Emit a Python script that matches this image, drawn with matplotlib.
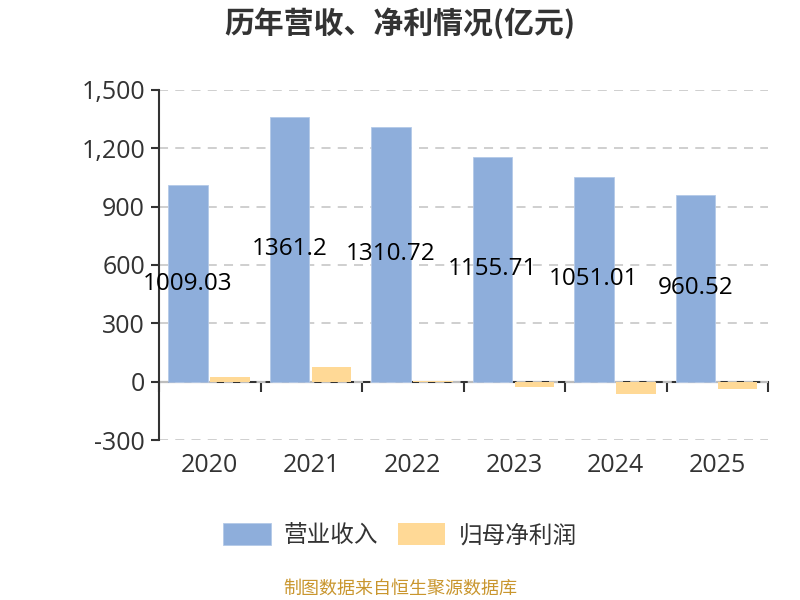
import matplotlib
matplotlib.use("Agg")
import matplotlib.pyplot as plt
import numpy as np
from matplotlib.patches import FancyBboxPatch
from matplotlib.legend_handler import HandlerPatch
from matplotlib.ticker import FuncFormatter

plt.rcParams["font.family"] = ["Open Sans", "Noto Sans CJK SC", "DejaVu Sans"]

YEARS = ["2020", "2021", "2022", "2023", "2024", "2025"]
REVENUE = [1009.03, 1361.2, 1310.72, 1155.71, 1051.01, 960.52]
NET_PROFIT = [22, 73, 1, -29, -65, -36]
REVENUE_LABELS = ["1009.03", "1361.2", "1310.72", "1155.71", "1051.01", "960.52"]

BLUE = "#8eaedb"
ORANGE = "#ffd996"
TEXT = "#333333"
CJK = ["Noto Sans CJK SC", "DejaVu Sans"]

YMIN, YMAX = -300, 1500


def rounded_patch(legend, orig_handle, xdescent, ydescent, width, height, fontsize):
    return FancyBboxPatch((-xdescent, -ydescent), width, height,
                          boxstyle="round,pad=0,rounding_size=4")


def main():
    fig = plt.figure(figsize=(8, 6), dpi=100)
    ax = fig.add_axes([159 / 800, 1 - 440 / 600, 609 / 800, 350 / 600])

    x = np.arange(len(YEARS))
    w = 0.39
    b1 = ax.bar(x - 0.215, REVENUE, w, color=BLUE, edgecolor="#b4c9e8",
                linewidth=0.6, label="营业收入", zorder=2)
    b2 = ax.bar(x + 0.2, NET_PROFIT, w, color=ORANGE, linewidth=0,
                label="归母净利润", zorder=2)

    for xi, v, lab in zip(x, REVENUE, REVENUE_LABELS):
        ax.text(xi - 0.215, v / 2, lab, ha="center", va="center",
                fontsize=17.5, color="black", zorder=3)

    ax.set_xlim(-0.5, len(YEARS) - 0.5)
    ax.set_ylim(YMIN, YMAX)
    ax.set_yticks(np.arange(-300, 1501, 300))
    ax.yaxis.set_major_formatter(FuncFormatter(lambda v, p: f"{int(v):,}"))
    ax.grid(axis="y", linestyle=(0, (5, 4)), color="#cccccc", linewidth=1.3, zorder=0)

    for s in ("top", "right", "bottom"):
        ax.spines[s].set_visible(False)
    ax.spines["left"].set_color(TEXT)
    ax.spines["left"].set_linewidth(1.5)
    ax.tick_params(axis="y", direction="out", length=6, width=1.5, color=TEXT,
                   labelsize=18, labelcolor=TEXT, pad=4)

    ax.set_xticks(x)
    ax.set_xticklabels(YEARS)
    ax.tick_params(axis="x", length=0, labelsize=18, labelcolor=TEXT, pad=9)

    # zero line with category boundary ticks
    zero_frac = (0 - YMIN) / (YMAX - YMIN)
    sec = ax.secondary_xaxis(zero_frac)
    sec.set_xticks(np.arange(-0.5, len(YEARS), 1.0))
    sec.set_xticklabels([])
    sec.tick_params(direction="out", length=7, width=1.5, color=TEXT)
    sec.spines["bottom"].set_color(TEXT)
    sec.spines["bottom"].set_linewidth(1.5)

    fig.text(0.5, 1 - 23 / 600, "历年营收、净利情况(亿元)", ha="center", va="center",
             fontsize=21.5, fontweight="bold", color=TEXT, family=CJK)

    fig.legend(handles=[b1, b2], loc="center", bbox_to_anchor=(0.5, 1 - 535 / 600),
               ncol=2, frameon=False, prop={"family": CJK, "size": 17},
               labelcolor=TEXT, handlelength=2.0, handleheight=1.1,
               handletextpad=0.55, columnspacing=0.85,
               handler_map={b1.patches[0].__class__: HandlerPatch(patch_func=rounded_patch)})

    fig.text(0.5, 1 - 589 / 600, "制图数据来自恒生聚源数据库", ha="center", va="center",
             fontsize=13, color="#c9962e", family=CJK)

    fig.savefig("out.png", dpi=100)
    plt.close(fig)


if __name__ == "__main__":
    main()
